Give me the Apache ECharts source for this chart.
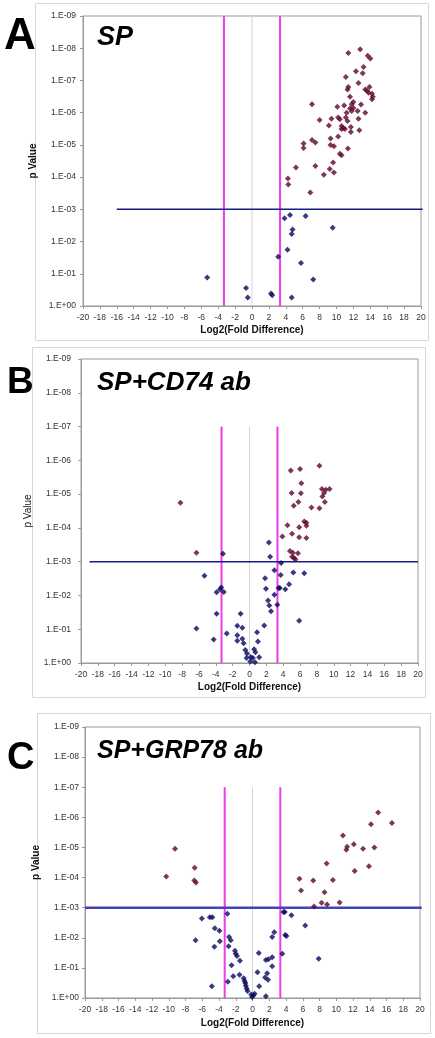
<!DOCTYPE html>
<html><head><meta charset="utf-8">
<script src="https://cdn.jsdelivr.net/npm/echarts@6/dist/echarts.min.js"></script>
<style>html,body{margin:0;padding:0;background:#fff;}#c{width:435px;height:1038px;}</style>
</head><body><div id="c"></div>
<script>
// ---------- data: [log2 fold difference, p value] ----------
const redA = [
 [11.4,1.4e-8],[12.8,1.07e-8],[13.7,1.7e-8],[14.0,2.1e-8],[13.2,3.8e-8],[12.3,5.2e-8],[13.1,6.0e-8],[11.1,7.8e-8],
 [12.6,1.2e-7],[13.9,1.6e-7],[11.3,1.9e-7],[11.4,1.6e-7],[13.4,1.9e-7],[13.6,2.1e-7],[13.8,2.4e-7],[14.2,2.6e-7],
 [14.3,3.2e-7],[14.2,3.8e-7],[11.6,3.2e-7],[12.0,4.7e-7],[7.1,5.5e-7],[10.1,6.6e-7],[10.9,6.0e-7],[11.8,5.5e-7],
 [12.9,5.6e-7],[11.6,7.4e-7],[12.0,7.2e-7],[11.8,8.9e-7],[12.5,8.9e-7],[13.4,1.0e-6],[11.2,1.0e-6],[10.2,1.4e-6],
 [9.4,1.55e-6],[10.4,1.6e-6],[11.1,1.4e-6],[11.3,1.8e-6],[8.0,1.7e-6],[12.6,1.55e-6],[9.1,2.5e-6],[10.6,2.6e-6],
 [10.8,3.0e-6],[10.6,3.2e-6],[11.0,3.2e-6],[11.7,2.8e-6],[11.7,4.0e-6],[12.7,3.5e-6],[10.2,5.5e-6],[9.3,6.3e-6],
 [7.1,7.1e-6],[7.5,8.5e-6],[6.1,9.1e-6],[6.1,1.26e-5],[9.3,1.0e-5],[9.7,1.1e-5],[11.35,1.3e-5],[10.4,1.9e-5],
 [10.6,2.1e-5],[9.6,3.5e-5],[7.5,4.5e-5],[5.2,5.0e-5],[9.2,5.6e-5],[9.7,7.2e-5],[8.5,8.5e-5],[4.25,1.1e-4],
 [4.3,1.7e-4],[6.9,3.0e-4]
];
const blueA = [
 [4.5,1.5e-3],[3.85,1.9e-3],[6.35,1.6e-3],[4.8,4.2e-3],[4.7,5.8e-3],[9.55,3.7e-3],[4.2,1.8e-2],[3.1,2.95e-2],
 [5.8,4.6e-2],[-5.3,1.3e-1],[7.25,1.5e-1],[-0.7,2.75e-1],[-0.5,5.4e-1],[2.25,4.1e-1],[2.4,4.6e-1],[4.7,5.4e-1]
];
const redB = [
 [4.9,2.0e-6],[6.0,1.8e-6],[8.3,1.45e-6],[6.15,4.8e-6],[5.0,9.3e-6],[6.1,9.5e-6],[8.6,7.1e-6],[9.05,7.4e-6],
 [9.5,7.1e-6],[8.85,9.3e-6],[8.65,1.17e-5],[8.95,1.7e-5],[5.8,1.7e-5],[5.25,2.2e-5],[7.35,2.5e-5],[8.3,2.6e-5],
 [6.5,6.5e-5],[6.75,7.1e-5],[6.75,8.7e-5],[5.9,9.5e-5],[4.5,8.3e-5],[5.05,1.5e-4],[3.9,1.8e-4],[5.9,1.9e-4],
 [6.75,2.0e-4],[4.8,4.8e-4],[5.15,5.4e-4],[5.75,5.6e-4],[5.05,7.1e-4],[5.3,7.8e-4],[5.45,8.7e-4],
 [-8.2,1.8e-5],[-6.3,5.4e-4]
];
const blueB = [
 [-3.15,5.8e-4],[2.3,2.7e-4],[2.45,7.1e-4],[3.75,1.1e-3],[2.95,1.8e-3],[3.7,2.5e-3],[5.2,2.1e-3],[6.5,2.2e-3],
 [-5.35,2.6e-3],[1.85,3.1e-3],[-3.5,6.5e-3],[-3.35,5.8e-3],[-3.9,8.1e-3],[-3.05,7.9e-3],[1.95,6.3e-3],[3.45,6.0e-3],
 [3.6,6.0e-3],[4.25,6.5e-3],[4.7,4.7e-3],[2.95,9.5e-3],[2.2,1.4e-2],[2.35,2.0e-2],[3.3,1.9e-2],[2.55,2.95e-2],
 [-3.9,3.5e-2],[-1.05,3.5e-2],[5.9,5.6e-2],[-6.3,9.5e-2],[-1.45,7.9e-2],[-0.85,9.1e-2],[1.75,7.8e-2],[-2.7,1.35e-1],
 [-1.45,1.5e-1],[0.9,1.23e-1],[-4.25,2.0e-1],[-0.85,1.9e-1],[-0.7,2.6e-1],[-1.45,2.2e-1],[1.0,2.3e-1],[-0.5,4.1e-1],
 [0.55,3.9e-1],[-0.3,5.2e-1],[0.7,4.8e-1],[1.15,6.8e-1],[-0.35,7.1e-1],[0.15,6.6e-1],[0.4,7.1e-1],[0.1,9.1e-1],
 [0.65,9.5e-1]
];
const redC = [
 [15.0,6.9e-7],[16.65,1.55e-6],[14.15,1.7e-6],[10.8,4.0e-6],[12.1,7.8e-6],[11.3,9.5e-6],[11.2,1.2e-5],[13.2,1.1e-5],
 [14.55,1.0e-5],[13.9,4.2e-5],[12.2,6.0e-5],[8.85,3.4e-5],[9.6,1.2e-4],[5.6,1.1e-4],[7.25,1.26e-4],[5.8,2.7e-4],
 [8.6,3.1e-4],[8.25,6.9e-4],[8.9,7.8e-4],[10.4,6.8e-4],[7.35,9.1e-4],
 [-9.25,1.1e-5],[-10.3,9.3e-5],[-6.9,4.7e-5],[-6.95,1.26e-4],[-6.75,1.45e-4]
];
const blueC = [
 [-3.0,1.6e-3],[-6.05,2.3e-3],[-5.1,2.1e-3],[-4.8,2.1e-3],[-4.5,4.8e-3],[-3.95,5.8e-3],[-6.8,1.2e-2],[-3.9,1.3e-2],
 [-4.55,2.0e-2],[-2.8,9.5e-3],[-2.6,1.2e-2],[-2.85,1.9e-2],[-2.1,2.7e-2],[-2.0,3.4e-2],[-1.85,4.0e-2],[-1.5,5.8e-2],
 [-2.5,8.1e-2],[-2.3,1.9e-1],[-2.95,2.9e-1],[-1.55,1.7e-1],[-1.05,2.2e-1],[-0.95,2.7e-1],[-0.85,3.2e-1],[-0.8,3.9e-1],
 [-0.7,4.8e-1],[-0.6,5.9e-1],[-0.15,7.6e-1],[0.1,8.3e-1],[-0.05,9.3e-1],[0.25,7.2e-1],[-4.85,4.1e-1],[0.75,3.2e-2],
 [1.6,5.5e-2],[1.9,5.2e-2],[2.35,4.4e-2],[2.35,8.9e-2],[0.6,1.4e-1],[1.75,1.5e-1],[1.5,2.1e-1],[1.85,2.5e-1],
 [0.8,4.1e-1],[1.6,8.7e-1],[2.35,9.5e-3],[2.6,6.5e-3],[3.55,3.4e-2],[3.7,1.4e-3],[3.85,1.4e-3],[4.65,1.8e-3],
 [3.9,8.1e-3],[4.05,8.7e-3],[6.3,3.9e-3],[7.9,5.0e-2]
];
// reference lines
const foldCut = [-3.32, 3.32];          // log2(10)
const pCut = 1e-3;
const vLineTop = [1e-9, 1e-7, 1e-7];    // top of vertical lines, panels A,B,C
const hLineX = [[-16, 20.2], [-19, 20], [-20, 20.2]];
// ticks
const xMin = -20, xMax = 20, xStep = 2;
const yTickLabels = ['1.E+00','1.E-01','1.E-02','1.E-03','1.E-04','1.E-05','1.E-06','1.E-07','1.E-08','1.E-09'];
const panelLetters = ['A','B','C'];
const panelTitles = ['SP','SP+CD74 ab','SP+GRP78 ab'];
const xTitle = 'Log2(Fold Difference)';
const yTitle = 'p Value';

// ---------- layout ----------
const grids = [
  {left:83, top:16, width:338, height:290},
  {left:81, top:359, width:337, height:304},
  {left:85, top:727, width:335, height:271}
];
const yNameGap = [32, 36, 33];
const yNameBold = ['bold','normal','bold'];
const yLabelMargin = [7, 10, 6];
const xNameGap = [19, 19, 20];
const FONT = '"Liberation Sans", Arial, sans-serif';
const RED = '#5e0530', BLUE = '#08085e', PINK = '#ec3cec', ZERO = '#d4d4d4';
const hLineStyle = [{color:'#1a1a8a', width:1.5}, {color:'#1a1a8a', width:1.5}, {color:'#4444b8', width:2.5}];

const reds = [redA, redB, redC], blues = [blueA, blueB, blueC];

const chart = echarts.init(document.getElementById('c'), null, {renderer:'canvas'});
const xAxes = [], yAxes = [], series = [];
grids.forEach((g, i) => {
  xAxes.push({
    gridIndex:i, type:'value', min:xMin, max:xMax, interval:xStep,
    axisLine:{show:true, onZero:false, lineStyle:{color:'#9a9a9a'}},
    axisTick:{show:true, length:3, lineStyle:{color:'#9a9a9a'}},
    splitLine:{show:false},
    axisLabel:{fontSize:8.5, color:'#333', margin:7, fontFamily:FONT},
    name:xTitle, nameLocation:'middle', nameGap:xNameGap[i],
    nameTextStyle:{fontSize:10, fontWeight:'bold', color:'#111', fontFamily:FONT}
  });
  yAxes.push({
    gridIndex:i, type:'log', logBase:10, min:1e-9, max:1, inverse:true, splitNumber:9,
    axisLine:{show:true, onZero:false, lineStyle:{color:'#9a9a9a'}},
    axisTick:{show:true, length:3, lineStyle:{color:'#9a9a9a'}},
    splitLine:{show:false},
    axisLabel:{fontSize:8.5, color:'#333', margin:yLabelMargin[i], fontFamily:FONT,
      formatter:v => { const e = Math.round(-Math.log10(v)); return yTickLabels[e] || ''; }},
    name:yTitle, nameLocation:'middle', nameGap:yNameGap[i],
    nameTextStyle:{fontSize:10, fontWeight:yNameBold[i], color:'#111', fontFamily:FONT}
  });
  const base = {xAxisIndex:i, yAxisIndex:i, type:'line', symbol:'none', silent:true, animation:false};
  series.push(Object.assign({}, base, {data:[[0, vLineTop[i]],[0, 1]], lineStyle:{color:ZERO, width:1}, z:1}));
  foldCut.forEach(fx => series.push(Object.assign({}, base, {
    data:[[fx, vLineTop[i]],[fx, 1]], lineStyle:{color:PINK, width:2}, z:2})));
  series.push(Object.assign({}, base, {clip:false,
    data:[[hLineX[i][0], pCut],[hLineX[i][1], pCut]], lineStyle:hLineStyle[i], z:3}));
  series.push({type:'scatter', xAxisIndex:i, yAxisIndex:i, data:blues[i], symbol:'diamond', symbolSize:6,
    itemStyle:{color:BLUE}, z:5, animation:false});
  series.push({type:'scatter', xAxisIndex:i, yAxisIndex:i, data:reds[i], symbol:'diamond', symbolSize:6,
    itemStyle:{color:RED}, z:5, animation:false});
});

const boxes = [{x:35,y:3,w:393,h:337},{x:32,y:347,w:393,h:350},{x:37,y:713,w:393,h:320}];
const letterPos = [{x:4,y:37,s:44},{x:7,y:383,s:37},{x:7,y:759,s:38}];
const titlePos = [{x:97,y:38,s:27},{x:97,y:383,s:26},{x:97,y:751,s:25}];
const graphic = [];
boxes.forEach(b => graphic.push({type:'rect', shape:{x:b.x+0.5,y:b.y+0.5,width:b.w,height:b.h}, style:{fill:null, stroke:'#d6d6d6', lineWidth:1}, z:-10, silent:true}));
letterPos.forEach((p,i) => graphic.push({type:'text', x:p.x, y:p.y, style:{text:panelLetters[i], fill:'#000',
  font:'bold '+p.s+'px '+FONT, textVerticalAlign:'middle', textAlign:'left'}}));
titlePos.forEach((p,i) => graphic.push({type:'text', x:p.x, y:p.y, style:{text:panelTitles[i], fill:'#000',
  font:'italic bold '+p.s+'px '+FONT, textVerticalAlign:'middle', textAlign:'left'}}));

chart.setOption({
  animation:false, backgroundColor:'#fff',
  grid:grids.map(g => Object.assign({show:true, borderColor:'#9a9a9a', borderWidth:1, backgroundColor:'transparent'}, g)),
  xAxis:xAxes, yAxis:yAxes, series:series, graphic:graphic
});
</script></body></html>
